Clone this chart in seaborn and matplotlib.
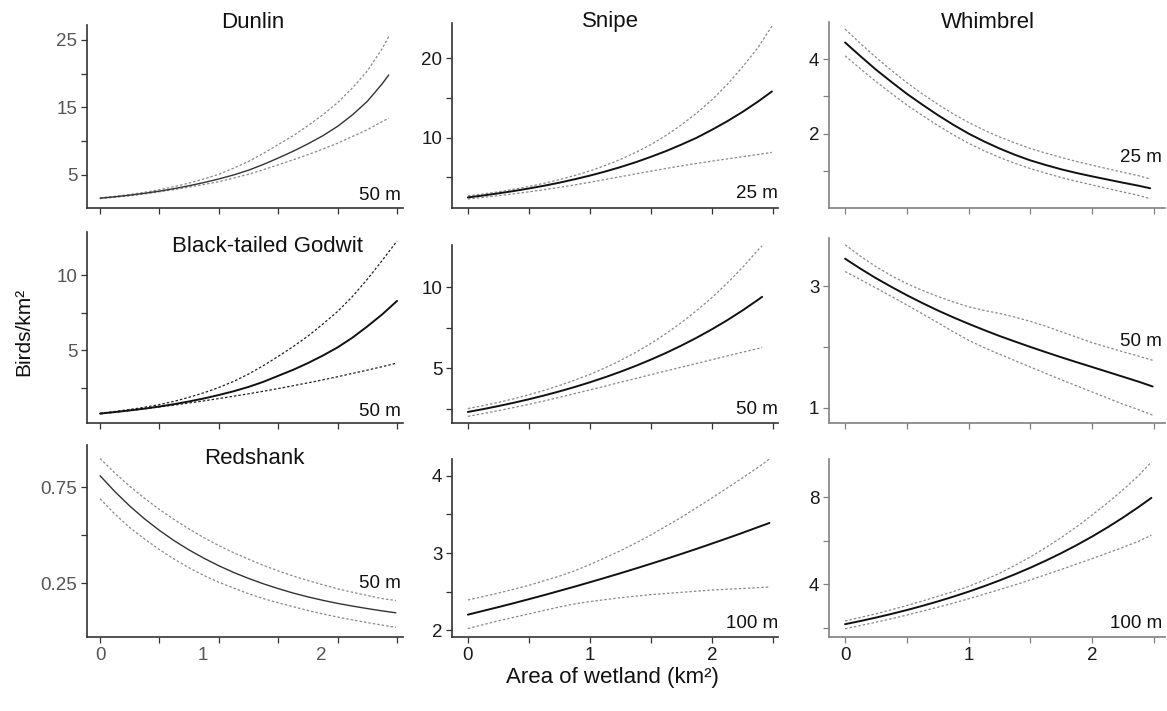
"""
Wader densities against area of wetland, 3x3 grid of fitted curves
with dotted confidence limits.
"""
import matplotlib
matplotlib.use("Agg")
import matplotlib.pyplot as plt
from matplotlib.transforms import ScaledTranslation
import seaborn as sns

W, H = 1167, 711

# shared x grid (0 .. 2.375 by 0.125), each curve ends at its own x_end
x_grid = [0, 0.125, 0.25, 0.375, 0.5, 0.625, 0.75, 0.875, 1.0, 1.125,
          1.25, 1.375, 1.5, 1.625, 1.75, 1.875, 2.0, 2.125, 2.25, 2.375]

# Dunlin, 50 m
dunlin_end = 2.43
dunlin_mean = [1.55, 1.76, 2.0, 2.28, 2.6, 2.97, 3.4, 3.87, 4.4, 5.0, 5.7,
               6.55, 7.5, 8.5, 9.6, 10.8, 12.2, 13.9, 15.9, 18.5, 19.8]
dunlin_hi = [1.6, 1.83, 2.1, 2.43, 2.8, 3.27, 3.8, 4.4, 5.1, 6.0, 7.0,
             8.2, 9.5, 10.8, 12.3, 13.9, 15.7, 17.9, 20.4, 23.7, 25.5]
dunlin_lo = [1.5, 1.69, 1.9, 2.18, 2.5, 2.83, 3.2, 3.58, 4.0, 4.53, 5.1,
             5.77, 6.5, 7.23, 8.0, 8.83, 9.7, 10.7, 11.7, 12.9, 13.4]

# Black-tailed Godwit, 50 m
godwit_end = 2.5
godwit_mean = [0.78, 0.88, 0.99, 1.11, 1.25, 1.41, 1.59, 1.79, 2.02, 2.27, 2.56,
               2.9, 3.3, 3.7, 4.15, 4.65, 5.2, 5.85, 6.6, 7.4, 8.3]
godwit_hi = [0.8, 0.92, 1.05, 1.2, 1.38, 1.6, 1.87, 2.17, 2.52, 2.93, 3.42,
             3.98, 4.6, 5.25, 5.95, 6.75, 7.6, 8.6, 9.75, 11.0, 12.3]
godwit_lo = [0.76, 0.87, 0.98, 1.1, 1.22, 1.35, 1.49, 1.63, 1.78, 1.94, 2.1,
             2.27, 2.45, 2.64, 2.83, 3.03, 3.24, 3.46, 3.68, 3.91, 4.15]

# Redshank, 50 m
redshank_end = 2.49
redshank_mean = [0.81, 0.727, 0.652, 0.585, 0.525, 0.471, 0.423, 0.38, 0.341,
                 0.306, 0.275, 0.247, 0.222, 0.199, 0.179, 0.161, 0.145,
                 0.131, 0.118, 0.106, 0.096]
redshank_hi = [0.90, 0.824, 0.755, 0.692, 0.634, 0.581, 0.532, 0.487, 0.446,
               0.409, 0.375, 0.343, 0.314, 0.288, 0.264, 0.242, 0.221,
               0.203, 0.186, 0.17, 0.16]
redshank_lo = [0.69, 0.61, 0.54, 0.48, 0.425, 0.375, 0.33, 0.29, 0.255,
               0.225, 0.195, 0.17, 0.148, 0.128, 0.108, 0.09, 0.074,
               0.059, 0.045, 0.032, 0.02]

# Snipe, 25 m
snipe25_end = 2.49
snipe25_mean = [2.5, 2.74, 3.01, 3.3, 3.62, 3.97, 4.35, 4.78, 5.24, 5.75, 6.31,
                6.92, 7.6, 8.33, 9.14, 10.0, 11.0, 12.07, 13.24, 14.52, 15.8]
snipe25_hi = [2.7, 2.94, 3.2, 3.52, 3.87, 4.28, 4.73, 5.25, 5.83, 6.51, 7.27,
              8.15, 9.14, 10.3, 11.62, 13.1, 14.77, 16.7, 18.88, 21.3, 24.0]
snipe25_lo = [2.3, 2.5, 2.72, 2.95, 3.2, 3.47, 3.76, 4.07, 4.4, 4.75, 5.1,
              5.45, 5.8, 6.14, 6.46, 6.77, 7.06, 7.34, 7.61, 7.89, 8.15]

# Snipe, 50 m
snipe50_end = 2.41
snipe50_mean = [2.32, 2.495, 2.683, 2.885, 3.102, 3.336, 3.587, 3.857, 4.148,
                4.46, 4.796, 5.157, 5.546, 5.963, 6.413, 6.896, 7.415, 7.973,
                8.574, 9.22, 9.41]
snipe50_hi = [2.53, 2.71, 2.91, 3.13, 3.38, 3.65, 3.95, 4.28, 4.63, 5.04, 5.49,
              5.99, 6.54, 7.16, 7.83, 8.57, 9.37, 10.26, 11.22, 12.28, 12.55]
snipe50_lo = [2.05, 2.22, 2.4, 2.59, 2.79, 3.0, 3.22, 3.45, 3.68, 3.91, 4.15,
              4.38, 4.62, 4.85, 5.08, 5.31, 5.54, 5.77, 6.0, 6.22, 6.3]

# Snipe, 100 m
snipe100_end = 2.47
snipe100_mean = [2.2, 2.249, 2.298, 2.349, 2.401, 2.454, 2.509, 2.564, 2.621,
                 2.679, 2.738, 2.799, 2.861, 2.924, 2.989, 3.055, 3.123,
                 3.192, 3.262, 3.335, 3.39]
snipe100_hi = [2.39, 2.435, 2.48, 2.53, 2.58, 2.64, 2.7, 2.77, 2.85, 2.94, 3.03,
               3.13, 3.235, 3.35, 3.465, 3.59, 3.715, 3.845, 3.975, 4.11, 4.22]
snipe100_lo = [2.02, 2.07, 2.12, 2.165, 2.21, 2.255, 2.3, 2.34, 2.37, 2.395,
               2.42, 2.44, 2.46, 2.475, 2.49, 2.505, 2.52, 2.53, 2.54, 2.55, 2.56]

# Whimbrel, 25 m
whimbrel25_end = 2.47
whimbrel25_mean = [4.45, 4.08, 3.72, 3.39, 3.07, 2.78, 2.5, 2.24, 2.0, 1.79, 1.6,
                   1.43, 1.28, 1.155, 1.04, 0.94, 0.85, 0.765, 0.68, 0.6, 0.53]
whimbrel25_hi = [4.81, 4.42, 4.05, 3.7, 3.37, 3.07, 2.79, 2.53, 2.3, 2.095, 1.91,
                 1.75, 1.6, 1.475, 1.36, 1.25, 1.15, 1.055, 0.96, 0.87, 0.78]
whimbrel25_lo = [4.09, 3.74, 3.4, 3.08, 2.77, 2.49, 2.22, 1.97, 1.74, 1.54, 1.36,
                 1.2, 1.06, 0.935, 0.82, 0.715, 0.62, 0.525, 0.43, 0.34, 0.25]

# Whimbrel, 50 m
whimbrel50_end = 2.49
whimbrel50_mean = [3.45, 3.285, 3.13, 2.987, 2.85, 2.722, 2.6, 2.487, 2.38,
                   2.278, 2.18, 2.089, 2.0, 1.914, 1.83, 1.749, 1.67, 1.59,
                   1.51, 1.43, 1.35]
whimbrel50_hi = [3.68, 3.49, 3.32, 3.17, 3.04, 2.93, 2.83, 2.74, 2.66, 2.6, 2.55,
                 2.49, 2.42, 2.34, 2.25, 2.16, 2.07, 1.995, 1.92, 1.85, 1.78]
whimbrel50_lo = [3.24, 3.105, 2.97, 2.83, 2.69, 2.545, 2.4, 2.25, 2.11, 1.99,
                 1.88, 1.775, 1.67, 1.565, 1.46, 1.36, 1.26, 1.16, 1.06, 0.97, 0.88]

# Whimbrel, 100 m
whimbrel100_end = 2.48
whimbrel100_mean = [2.16, 2.307, 2.464, 2.632, 2.811, 3.003, 3.207, 3.426, 3.659,
                    3.908, 4.174, 4.459, 4.762, 5.087, 5.433, 5.803, 6.198,
                    6.621, 7.072, 7.553, 7.98]
whimbrel100_hi = [2.31, 2.47, 2.64, 2.825, 3.02, 3.225, 3.44, 3.66, 3.9, 4.19, 4.5,
                  4.87, 5.26, 5.69, 6.15, 6.65, 7.19, 7.75, 8.35, 9.0, 9.64]
whimbrel100_lo = [1.95, 2.1, 2.25, 2.41, 2.58, 2.76, 2.94, 3.13, 3.33, 3.54, 3.75,
                  3.97, 4.2, 4.44, 4.68, 4.93, 5.18, 5.44, 5.7, 5.98, 6.26]

x_ticks = [0, 0.5, 1, 1.5, 2, 2.5]
x_ticklabels = ["0", "", "1", "", "2", ""]

# (row, col, buffer, x_end, mean, lo, hi, yticks, yticklabels, ylim)
panels = [
    (0, 0, "50 m", dunlin_end, dunlin_mean, dunlin_lo, dunlin_hi,
     [5, 10, 15, 20, 25], ["5", "", "15", "", "25"], (0.1, 27.2)),
    (1, 0, "50 m", godwit_end, godwit_mean, godwit_lo, godwit_hi,
     [2.5, 5, 7.5, 10], ["", "5", "", "10"], (0.15, 12.9)),
    (2, 0, "50 m", redshank_end, redshank_mean, redshank_lo, redshank_hi,
     [0.25, 0.5, 0.75], ["0.25", "", "0.75"], (-0.03, 0.97)),
    (0, 1, "25 m", snipe25_end, snipe25_mean, snipe25_lo, snipe25_hi,
     [5, 10, 15, 20], ["", "10", "", "20"], (1.17, 24.4)),
    (1, 1, "50 m", snipe50_end, snipe50_mean, snipe50_lo, snipe50_hi,
     [2.5, 5, 7.5, 10], ["", "5", "", "10"], (1.64, 12.6)),
    (2, 1, "100 m", snipe100_end, snipe100_mean, snipe100_lo, snipe100_hi,
     [2, 2.5, 3, 3.5, 4], ["2", "", "3", "", "4"], (1.91, 4.22)),
    (0, 2, "25 m", whimbrel25_end, whimbrel25_mean, whimbrel25_lo, whimbrel25_hi,
     [1, 2, 3, 4], ["", "2", "", "4"], (0.0, 5.0)),
    (1, 2, "50 m", whimbrel50_end, whimbrel50_mean, whimbrel50_lo, whimbrel50_hi,
     [1, 2, 3], ["1", "", "3"], (0.75, 3.79)),
    (2, 2, "100 m", whimbrel100_end, whimbrel100_mean, whimbrel100_lo, whimbrel100_hi,
     [2, 4, 6, 8], ["", "4", "", "8"], (1.57, 9.77)),
]

# layout in pixels
col_lr = [(87, 403), (452, 778), (829, 1165)]
col_xlim = [(-0.11, 2.55), (-0.13, 2.54), (-0.13, 2.59)]
row_bottom = [208, 423, 637]
panel_top = {(0, 0): 25, (0, 1): 23, (0, 2): 22,
             (1, 0): 232, (1, 1): 245, (1, 2): 238,
             (2, 0): 445, (2, 1): 459, (2, 2): 459}
spine_color = ["#333333", "#333333", "#808080"]
label_color = ["#555555", "#1a1a1a", "#1a1a1a"]
buffer_y = {(0, 0): 196, (0, 1): 194, (0, 2): 157,
            (1, 0): 412, (1, 1): 409, (1, 2): 341,
            (2, 0): 583, (2, 1): 624, (2, 2): 623}
buffer_right = [401, 778, 1162]

titles = [("Dunlin", 253, 22), ("Snipe", 610, 22), ("Whimbrel", 988, 22),
          ("Black-tailed Godwit", 267, 246), ("Redshank", 254, 458)]


def main():
    sns.set_style("ticks")
    plt.rcParams["font.family"] = ["Liberation Sans", "DejaVu Sans"]
    fig = plt.figure(figsize=(W / 100, H / 100), dpi=100)

    for row, col, buf, x_end, mean, lo, hi, yt, ytl, ylim in panels:
        left, right = col_lr[col]
        top = panel_top[(row, col)]
        bottom = row_bottom[row]
        ax = fig.add_axes([left / W, 1 - bottom / H,
                           (right - left) / W, (bottom - top) / H])
        xs = x_grid + [x_end]

        godwit = (row, col) == (1, 0)
        ci_color = "#222222" if godwit else "#8a8a8a"
        if col == 0 and not godwit:
            mean_kw = dict(color="#333333", linewidth=1.0)
        else:
            mean_kw = dict(color="#111111", linewidth=1.4)

        sns.lineplot(x=xs, y=hi, ax=ax, color=ci_color, linewidth=0.9,
                     linestyle=(0, (2.0, 1.6)))
        sns.lineplot(x=xs, y=lo, ax=ax, color=ci_color, linewidth=0.9,
                     linestyle=(0, (2.0, 1.6)))
        sns.lineplot(x=xs, y=mean, ax=ax, **mean_kw)

        ax.set_xlim(*col_xlim[col])
        ax.set_ylim(*ylim)
        ax.set_xticks(x_ticks)
        if row == 2:
            ax.set_xticklabels(x_ticklabels)
        else:
            ax.set_xticklabels([""] * len(x_ticks))
        ax.set_yticks(yt)
        ax.set_yticklabels(ytl)
        ax.set_xlabel("")
        ax.set_ylabel("")

        for side in ["top", "right"]:
            ax.spines[side].set_visible(False)
        for side in ["left", "bottom"]:
            ax.spines[side].set_color(spine_color[col])
            ax.spines[side].set_linewidth(1.2)
        ax.tick_params(axis="both", direction="out", length=4, width=0.9,
                       color=spine_color[col], labelsize=13.5,
                       labelcolor=label_color[col], pad=3)

        # in the first column the "1" and "2" labels sit left of their ticks
        if row == 2 and col == 0:
            shift = ScaledTranslation(-16 / 100, 0, fig.dpi_scale_trans)
            for lbl in ax.get_xticklabels():
                if lbl.get_text() in ("1", "2"):
                    lbl.set_transform(lbl.get_transform() + shift)

        fig.text(buffer_right[col] / W, 1 - buffer_y[(row, col)] / H, buf,
                 ha="right", va="center", fontsize=13.5, color="#111111")

    for name, tx, ty in titles:
        fig.text(tx / W, 1 - ty / H, name, ha="center", va="center",
                 fontsize=16, color="#111111")

    fig.text(24 / W, 1 - 332 / H, "Birds/km\u00b2", rotation=90,
             ha="center", va="center", fontsize=15, color="#111111")
    fig.text(612 / W, 1 - 678 / H, "Area of wetland (km\u00b2)",
             ha="center", va="center", fontsize=16, color="#111111")

    fig.savefig("out.png", dpi=100)
    plt.close(fig)


if __name__ == "__main__":
    main()
